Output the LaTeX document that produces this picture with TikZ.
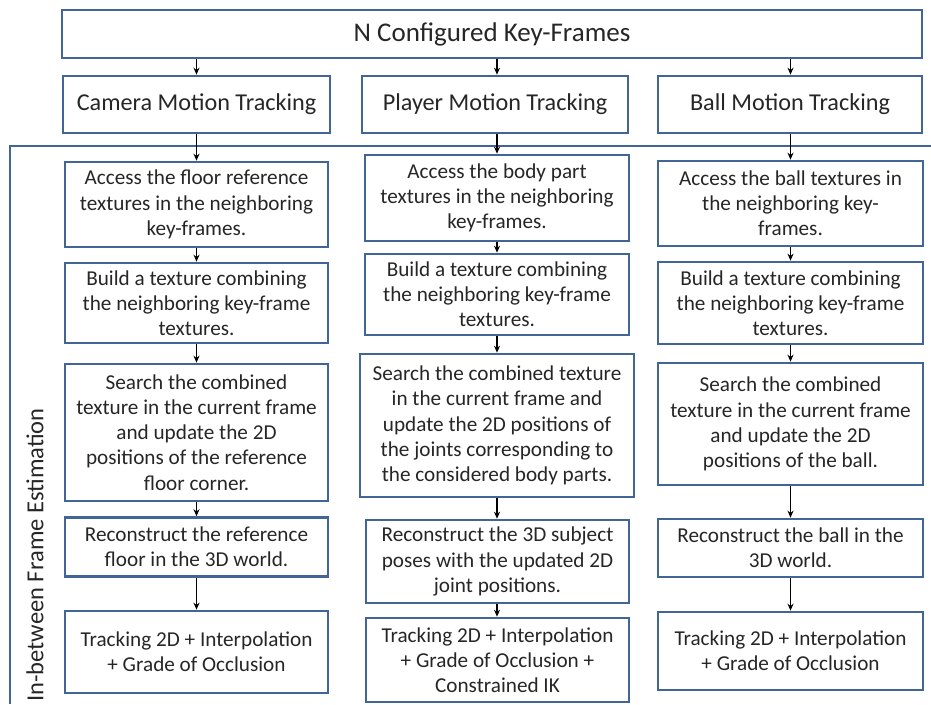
\documentclass[tikz,border=0pt]{standalone}
\usepackage{fontspec}
\setmainfont{Carlito}
\usetikzlibrary{arrows.meta,positioning}

\definecolor{boxblue}{RGB}{66,101,152}

\tikzset{
  block/.style={draw=boxblue, line width=2.6pt, align=center, inner sep=0pt,
    font=\fontsize{21.2}{25.2}\selectfont, text=black!85},
  head/.style={block, font=\fontsize{24.2}{28}\selectfont},
  arr/.style={-{Stealth[length=7pt,width=6pt]}, line width=1.6pt}
}

\begin{document}
\begin{tikzpicture}[x=1pt,y=-1pt]
\useasboundingbox (0,0) rectangle (931,704);
% top box and the three tracking heads
\node[head, minimum width=860, minimum height=48, font=\fontsize{27}{30}\selectfont] (keys) at (492,34) {N Configured Key-Frames};
\node[head, minimum width=267, minimum height=57] (cam) at (196.5,104.5) {Camera Motion Tracking};
\node[head, minimum width=266, minimum height=57] (ply) at (495,104.5) {Player Motion Tracking};
\node[head, minimum width=264, minimum height=57] (ball) at (790,104.5) {Ball Motion Tracking};
% frame of the in-between estimation
\coordinate (fr) at (931,146);
\coordinate (fc) at (10,146);
\coordinate (fb) at (10,704);
\draw[boxblue, line width=2pt] (fr) -- (fc) -- (fb);
\node[rotate=90, font=\fontsize{24.5}{28}\selectfont, text=black!85] (est) at (35,555) {In-between Frame Estimation};
% camera column
\node[block, minimum width=263, minimum height=85] (c1) at (196.5,204.5) {Access the floor reference\\textures in the neighboring\\key-frames.};
\node[block, minimum width=263, minimum height=80] (c2) at (196.5,303) {Build a texture combining\\the neighboring key-frame\\textures.};
\node[block, minimum width=263, minimum height=137] (c3) at (196.5,432.5) {Search the combined\\texture in the current frame\\and update the 2D\\positions of the reference\\floor corner.};
\node[block, minimum width=263, minimum height=59] (c4) at (196.5,547) {Reconstruct the reference\\floor in the 3D world.};
\node[block, minimum width=263, minimum height=82] (c5) at (196.5,652) {Tracking 2D + Interpolation\\+ Grade of Occlusion};
% player column
\node[block, minimum width=264, minimum height=86] (p1) at (497,198) {Access the body part\\textures in the neighboring\\key-frames.};
\node[block, minimum width=264, minimum height=81] (p2) at (497,294.5) {Build a texture combining\\the neighboring key-frame\\textures.};
\node[block, minimum width=274, minimum height=143] (p3) at (497,425.5) {Search the combined texture\\in the current frame and\\update the 2D positions of\\the joints corresponding to\\the considered body parts.};
\node[block, minimum width=263, minimum height=83] (p4) at (497.5,561.5) {Reconstruct the 3D subject\\poses with the updated 2D\\joint positions.};
\node[block, minimum width=263, minimum height=84] (p5) at (497.5,660) {Tracking 2D + Interpolation\\+ Grade of Occlusion +\\Constrained IK};
% ball column
\node[block, minimum width=265, minimum height=85] (b1) at (790.5,203.5) {Access the ball textures in\\the neighboring key-\\frames.};
\node[block, minimum width=265, minimum height=82] (b2) at (790.5,303) {Build a texture combining\\the neighboring key-frame\\textures.};
\node[block, minimum width=265, minimum height=122] (b3) at (790.5,424) {Search the combined\\texture in the current frame\\and update the 2D\\positions of the ball.};
\node[block, minimum width=265, minimum height=58] (b4) at (790.5,548) {Reconstruct the ball in the\\3D world.};
\node[block, minimum width=265, minimum height=78] (b5) at (790.5,651) {Tracking 2D + Interpolation\\+ Grade of Occlusion};
% arrows from the key-frames
\draw[arr] (keys.south -| cam) -- (cam);
\draw[arr] (keys.south -| p1) -- (ply.north -| p1);
\draw[arr] (keys.south -| b1) -- (ball.north -| b1);
% arrows down each column
\draw[arr] (cam) -- (c1);
\draw[arr] (c1) -- (c2);
\draw[arr] (c2) -- (c3);
\draw[arr] (c3) -- (c4);
\draw[arr] (c4) -- (c5);
\draw[arr] (ply.south -| p1) -- (p1);
\draw[arr] (p1) -- (p2);
\draw[arr] (p2) -- (p3);
\draw[arr] (p3) -- (p4.north -| p3);
\draw[arr] (p4.south -| p3) -- (p5.north -| p3);
\draw[arr] (ball.south -| b1) -- (b1);
\draw[arr] (b1) -- (b2);
\draw[arr] (b2) -- (b3);
\draw[arr] (b3) -- (b4);
\draw[arr] (b4) -- (b5);
\end{tikzpicture}
\end{document}
